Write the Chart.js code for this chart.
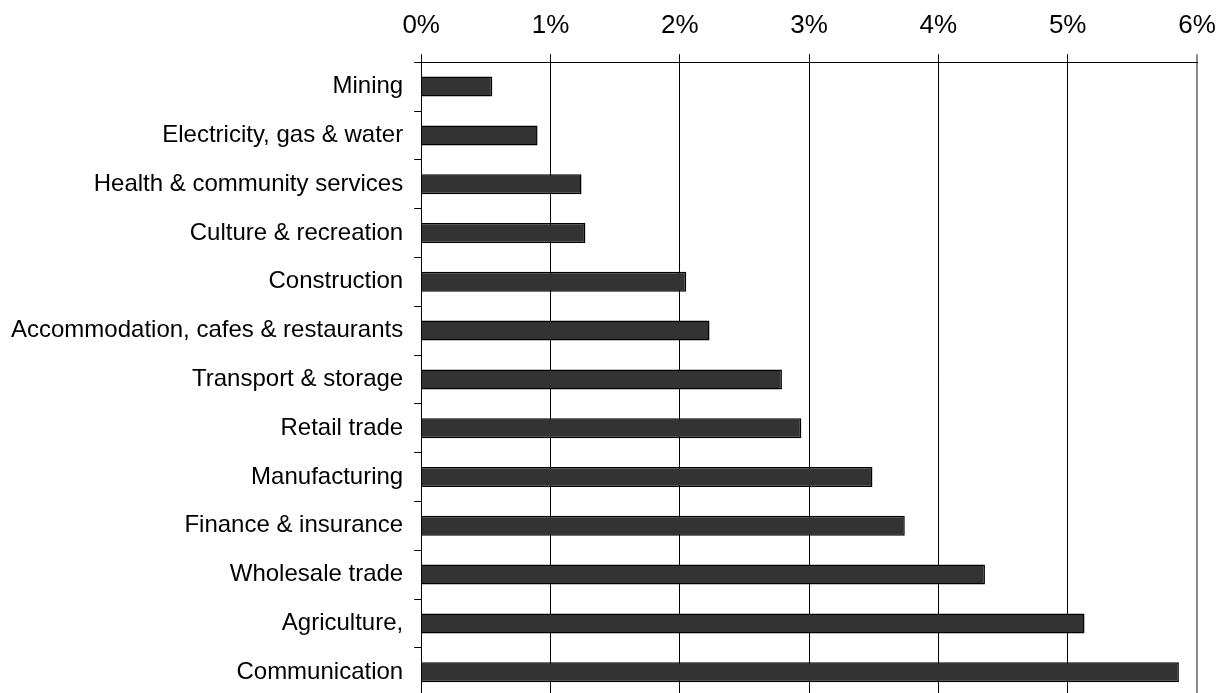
<!DOCTYPE html>
<html>
<head>
<meta charset="utf-8">
<title>Industry shares</title>
<script src="https://cdn.jsdelivr.net/npm/chart.js@4.4.1/dist/chart.umd.min.js"></script>
<style>
    html, body { margin: 0; padding: 0; background: #fff; overflow: hidden; }
    canvas { display: block; }
</style>
</head>
<body>
<canvas id="industryChart" width="1224" height="722"></canvas>
<script>
const industries = [
    'Mining',
    'Electricity, gas & water',
    'Health & community services',
    'Culture & recreation',
    'Construction',
    'Accommodation, cafes & restaurants',
    'Transport & storage',
    'Retail trade',
    'Manufacturing',
    'Finance & insurance',
    'Wholesale trade',
    'Agriculture,',
    'Communication',
];

// share of each industry, in percent
const shares = [0.55, 0.90, 1.24, 1.27, 2.05, 2.23, 2.79, 2.94, 3.49, 3.74, 4.36, 5.13, 5.86];

const percentTicks = [0, 1, 2, 3, 4, 5, 6];

const palette = {
    bar: '#333333',
    ink: '#000000',
    frame: '#8c8c8c',
};

const family = 'Arial, "Liberation Sans", sans-serif';

new Chart(document.getElementById('industryChart'), {
    type: 'bar',
    data: {
        labels: industries,
        datasets: [
            {
                data: shares,
                backgroundColor: palette.bar,
                borderColor: palette.ink,
                borderWidth: 1.5,
                barPercentage: 0.41,
                categoryPercentage: 1,
            },
        ],
    },
    options: {
        indexAxis: 'y',
        responsive: false,
        animation: false,
        layout: {
            padding: { left: 0, top: -3, right: 27, bottom: 0 },
        },
        plugins: {
            legend: { display: false },
            tooltip: { enabled: false },
        },
        scales: {
            x: {
                position: 'top',
                min: percentTicks[0],
                max: percentTicks[percentTicks.length - 1],
                afterBuildTicks: (scale) => {
                    scale.ticks = percentTicks.map((value) => ({ value }));
                },
                // let the layout padding alone decide the right edge
                afterFit: (scale) => {
                    scale.paddingRight = 0;
                },
                ticks: {
                    color: palette.ink,
                    font: { family, size: 26 },
                    padding: 13,
                    callback: (value) => `${value}%`,
                },
                grid: {
                    color: (ctx) => (ctx.index === percentTicks.length - 1 ? palette.frame : palette.ink),
                    lineWidth: (ctx) => (ctx.index === percentTicks.length - 1 ? 2 : 1),
                    tickLength: 8,
                },
                border: { color: palette.ink, width: 1 },
            },
            y: {
                ticks: {
                    color: palette.ink,
                    font: { family, size: 24 },
                    padding: 11,
                },
                grid: {
                    offset: true,
                    drawOnChartArea: false,
                    color: palette.ink,
                    tickLength: 7,
                },
                border: { color: palette.ink, width: 1 },
            },
        },
    },
});
</script>
</body>
</html>
